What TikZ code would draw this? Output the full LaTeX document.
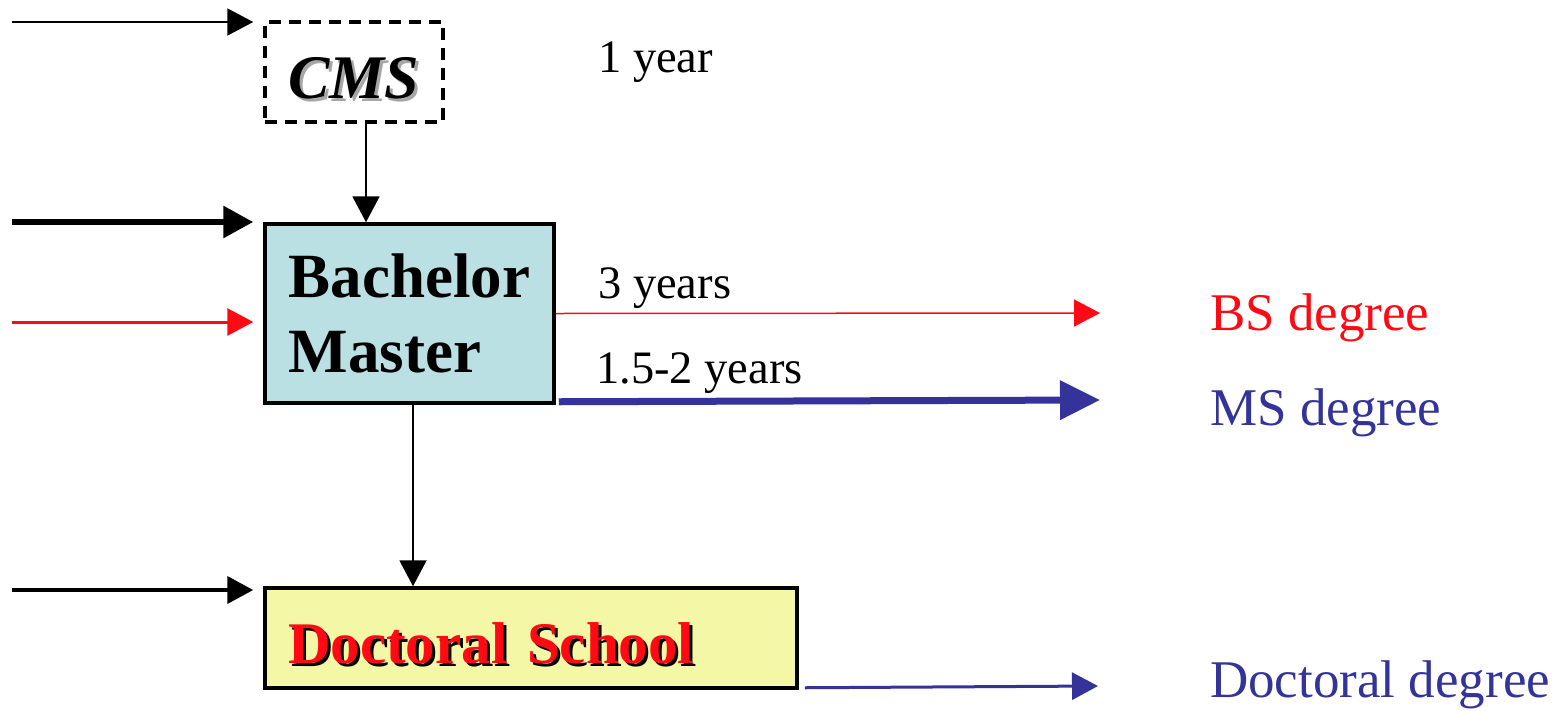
\documentclass[tikz,border=0pt]{standalone}
\usepackage{fontspec}
\setmainfont{Liberation Serif}
\usepackage{tikz}
\usetikzlibrary{arrows.meta}
\usetikzlibrary{positioning}

\definecolor{degblue}{HTML}{333399}
\definecolor{degred}{HTML}{FF0A14}
\definecolor{bmfill}{HTML}{BBE0E3}
\definecolor{dsfill}{HTML}{F4F8A6}
\newcommand\shadowtext[3]{\makebox[0pt][l]{\kern#2\raisebox{-#2}{\color{#1}#3}}#3}

\begin{document}
\begin{tikzpicture}[x=1pt, y=-1pt,
    every node/.style = {inner sep=0pt},
    bigbox/.style = {draw, line width=3.5pt, shape=rectangle},
    flow/.style = {line width=2pt, -{Triangle[length=26pt,width=27pt]}},
    timelabel/.style = {anchor=base west, font=\fontsize{46.5}{54}\selectfont},
    degree/.style = {anchor=base west, font=\fontsize{53}{64}\selectfont}]
  \useasboundingbox (0,0) rectangle (1568,710);

  % boxes
  \node (cms) [draw, dashed, line width=3.5pt, dash pattern=on 12pt off 8pt,
    minimum width=178pt, minimum height=100pt, text height=52pt, text depth=0pt,
    font=\fontsize{62}{70}\selectfont\bfseries\itshape] at (354,72)
    {\shadowtext{black!35}{3pt}{CMS}};
  \node (bm) [bigbox, fill=bmfill, minimum width=289pt, minimum height=179pt,
    align=left, font=\fontsize{63}{75}\selectfont\bfseries] at (409.5,313.5)
    {Bachelor\\Master};
  \node (ds) [bigbox, fill=dsfill, text width=486pt, inner xsep=23pt,
    minimum height=100pt, text height=50pt, text depth=0pt, align=left,
    font=\fontsize{59}{70}\selectfont\bfseries] at (531,638)
    {\color{degred}\shadowtext{black}{3pt}{Doctoral School}};

  % time labels
  \node (yr1) [timelabel] at (598,72) {1 year};
  \node (yr3) [timelabel] at (598,298) {3 years};
  \node (yr15) [timelabel] at (596,383) {1.5-2 years};

  % degrees
  \node (bs) [degree, text=degred] at (1210,330) {BS degree};
  \node (ms) [degree, text=degblue] at (1210,425) {MS degree};
  \node (dd) [degree, text=degblue] at (1210,697) {Doctoral degree};

  % free ends
  \coordinate (in1) at (12,22);
  \coordinate (in2) at (12,222);
  \coordinate (in3) at (12,322);
  \coordinate (in4) at (12,590);
  \coordinate (bsend) at (1100,313);
  \coordinate (msend) at (1100,400);
  \coordinate (ddend) at (1098,686);

  % arrows
  \draw [flow, shorten >=10pt] (in1) -- (in1 -| cms.west);
  \draw [flow, line width=6pt, -{Triangle[length=30pt,width=31pt]}, shorten >=10pt]
    (in2) -- (in2 -| bm.west);
  \draw [flow, degred, line width=3pt, shorten >=10pt] (in3) -- (in3 -| bm.west);
  \draw [flow, line width=4pt, shorten >=10pt] (in4) -- (in4 -| ds.west);
  \draw [flow] ([xshift=12pt]cms.south) -- ([xshift=12pt]cms.south |- bm.north);
  \draw [flow] ([xshift=3.5pt]bm.south) -- ([xshift=3.5pt]bm.south |- ds.north);
  \draw [flow, degred, line width=1.5pt] (bm.east) -- (bsend);
  \draw [flow, degblue, line width=7pt, -{Triangle[length=40pt,width=38pt]}]
    ([xshift=3pt,yshift=3pt]bm.south east) -- (msend);
  \draw [flow, degblue, line width=3pt] ([xshift=6pt,yshift=2pt]ds.south east) -- (ddend);

\end{tikzpicture}
\end{document}
